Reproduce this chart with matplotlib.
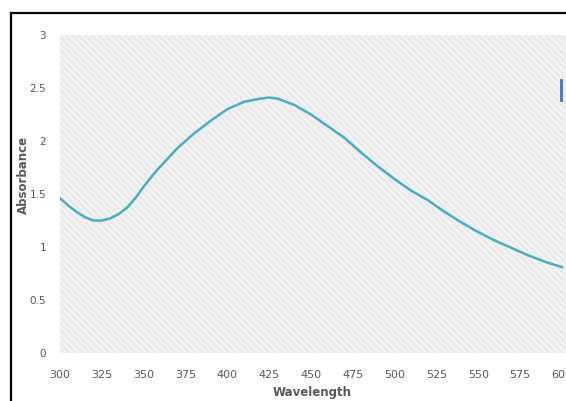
import matplotlib
matplotlib.use("Agg")
import matplotlib.pyplot as plt
from matplotlib.patches import Rectangle
from matplotlib.lines import Line2D

wavelength = [300, 305, 310, 315, 320, 325, 330, 335, 340, 345, 350, 355, 360, 370,
              380, 390, 400, 410, 420, 425, 430, 440, 450, 460, 470, 480, 490, 500,
              510, 520, 530, 540, 550, 560, 570, 580, 590, 600]
absorbance = [1.46, 1.39, 1.33, 1.28, 1.25, 1.25, 1.27, 1.31, 1.37, 1.46, 1.57, 1.67,
              1.76, 1.93, 2.07, 2.19, 2.30, 2.37, 2.40, 2.41, 2.40, 2.34, 2.25, 2.14,
              2.03, 1.89, 1.76, 1.64, 1.53, 1.44, 1.33, 1.23, 1.14, 1.06, 0.99, 0.92,
              0.86, 0.81]
xticks = [300, 325, 350, 375, 400, 425, 450, 475, 500, 525, 550, 575, 600]
yticks = [0, 0.5, 1, 1.5, 2, 2.5, 3]
ytick_labels = ["0", "0.5", "1", "1.5", "2", "2.5", "3"]

plt.rcParams['font.family'] = ['Liberation Sans Narrow', 'DejaVu Sans']
W, H = 566, 401
fig = plt.figure(figsize=(W / 100, H / 100), dpi=100)

# outer frame (left and top border lines)
fig.add_artist(Line2D([11 / W, 11 / W], [0, 1 - 13 / H], color='black', lw=1.6,
                      transform=fig.transFigure))
fig.add_artist(Line2D([11 / W, 1], [1 - 13 / H, 1 - 13 / H], color='black', lw=1.6,
                      transform=fig.transFigure))

ax_l, ax_r, ax_t, ax_b = 60, 566, 35, 353
ax = fig.add_axes([ax_l / W, 1 - ax_b / H, (ax_r - ax_l) / W, (ax_b - ax_t) / H])
ax.set_facecolor('#ebebeb')
plt.rcParams['hatch.color'] = 'white'
plt.rcParams['hatch.linewidth'] = 0.6
ax.add_patch(Rectangle((0, 0), 1, 1, transform=ax.transAxes, facecolor='none',
                       edgecolor='white', hatch='\\\\\\\\\\', lw=0, zorder=0))

x_right = 300 + (ax_r - ax_l) / (562 - 60) * 300
ax.set_xlim(300, x_right)
ax.set_ylim(0, 3)

ax.plot(wavelength, absorbance, color='#4bacc6', lw=1.8, zorder=3)

for s in ax.spines.values():
    s.set_visible(False)
ax.set_xticks(xticks)
ax.set_xticklabels([str(t) for t in xticks])
ax.set_yticks(yticks)
ax.set_yticklabels(ytick_labels)
ax.tick_params(axis='both', length=0, labelsize=8, labelcolor='#595959')
ax.tick_params(axis='x', pad=12)
ax.tick_params(axis='y', pad=10, labelsize=7.5)

ax.set_xlabel('Wavelength', fontsize=8.5, fontweight='bold', color='#595959')
ax.xaxis.set_label_coords((312 - ax_l) / (ax_r - ax_l), (ax_b - 386) / (ax_b - ax_t))
ax.set_ylabel('Absorbance', fontsize=8.5, fontweight='bold', color='#595959')
ax.yaxis.set_label_coords((30 - ax_l) / (ax_r - ax_l), (ax_b - 175) / (ax_b - ax_t))

# truncated legend marker at right edge
fig.add_artist(Line2D([561 / W, 561 / W], [1 - 80 / H, 1 - 100 / H], color='#4472c4',
                      lw=2, transform=fig.transFigure))

fig.savefig('out.png', dpi=100)
